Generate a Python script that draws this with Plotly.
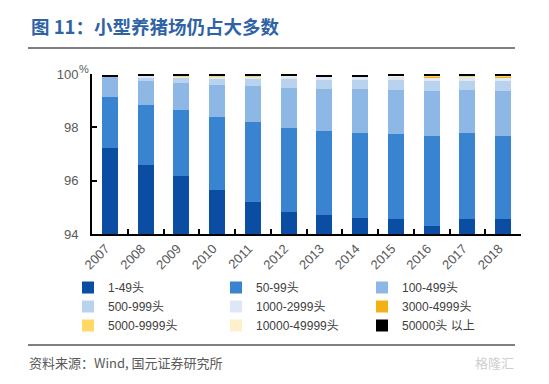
import plotly.graph_objects as go

years = ["2007", "2008", "2009", "2010", "2011", "2012", "2013", "2014", "2015", "2016", "2017", "2018"]

s_1_49 = [97.22, 96.59, 96.18, 95.65, 95.20, 94.83, 94.71, 94.60, 94.56, 94.30, 94.56, 94.56]
s_50_99 = [1.93, 2.25, 2.47, 2.74, 3.00, 3.15, 3.15, 3.19, 3.19, 3.38, 3.23, 3.12]
s_100_499 = [0.72, 0.91, 1.03, 1.20, 1.35, 1.50, 1.58, 1.65, 1.65, 1.68, 1.61, 1.68]
s_500_999 = [0.00, 0.13, 0.17, 0.24, 0.27, 0.32, 0.35, 0.35, 0.38, 0.36, 0.35, 0.36]
s_1000_2999 = [0.00, 0.05, 0.06, 0.08, 0.09, 0.10, 0.10, 0.10, 0.11, 0.16, 0.14, 0.16]
s_3000_4999 = [0.00, 0.01, 0.01, 0.01, 0.01, 0.01, 0.01, 0.01, 0.02, 0.03, 0.03, 0.03]
s_5000_9999 = [0.00, 0.01, 0.01, 0.01, 0.01, 0.01, 0.01, 0.01, 0.01, 0.03, 0.02, 0.03]
s_10000_49999 = [0.00, 0.01, 0.01, 0.01, 0.01, 0.01, 0.01, 0.01, 0.01, 0.01, 0.01, 0.01]
s_50000 = [0.10, 0.05, 0.05, 0.05, 0.05, 0.05, 0.05, 0.05, 0.05, 0.05, 0.05, 0.05]

series_names = ["1-49头", "50-99头", "100-499头", "500-999头", "1000-2999头",
                "3000-4999头", "5000-9999头", "10000-49999头", "50000头 以上"]
series_values = [s_1_49, s_50_99, s_100_499, s_500_999, s_1000_2999,
                 s_3000_4999, s_5000_9999, s_10000_49999, s_50000]
colors = ["#0B4DA2", "#3984D0", "#8DB8E6", "#B9D3EF", "#DCE8F6",
          "#F2B215", "#FFD866", "#FFF0CC", "#000000"]
legend_ids = ["legend", "legend2", "legend3"]

FONT = "Liberation Sans, Arial, Noto Sans CJK SC, sans-serif"
CJK = "Noto Sans CJK SC, sans-serif"

OFF = 8  # page body margin
W, H = 549 - 2 * OFF, 384 - 2 * OFF
L, T = 92 - OFF, 74 - OFF
PR, PB = 521 - OFF, 234 - OFF
R, B = W - PR, H - PB
PW, PH = PR - L, PB - T


def px_x(x):
    return (x - OFF - L) / PW


def px_y(y):
    return 1 - (y - OFF - T) / PH


fig = go.Figure()
for i, (name, vals, col) in enumerate(zip(series_names, series_values, colors)):
    fig.add_trace(go.Bar(x=years, y=vals, name=name, legend=legend_ids[i % 3],
                         marker=dict(color=col, line=dict(width=0))))


def legend_cfg(xpix):
    return dict(
        orientation="v",
        xref="container", yref="container",
        x=(xpix - OFF) / W, y=1 - (273 - OFF) / H, xanchor="left", yanchor="top",
        itemwidth=30,
        traceorder="normal",
        font=dict(family=FONT, size=12, color="#404040"),
        bgcolor="rgba(0,0,0,0)",
        tracegroupgap=0,
    )


fig.update_layout(
    barmode="stack",
    bargap=0.55,
    width=W, height=H,
    margin=dict(l=L, r=R, t=T, b=B, autoexpand=False),
    plot_bgcolor="white", paper_bgcolor="white",
    font=dict(family=FONT, size=13, color="#595959"),
    showlegend=True,
    legend=legend_cfg(68),
    legend2=legend_cfg(216),
    legend3=legend_cfg(362),
    xaxis=dict(
        type="category",
        showline=True, linecolor="black", linewidth=2,
        ticks="inside", tickson="boundaries", ticklen=5, tickwidth=2, tickcolor="black",
        tickangle=-45,
        ticklabelshift=-4,
        tickfont=dict(size=13, color="#595959"),
        showgrid=False, zeroline=False,
    ),
    yaxis=dict(
        range=[94, 100],
        tickvals=[94, 96, 98, 100],
        showline=True, linecolor="black", linewidth=2,
        ticks="inside", ticklen=5, tickwidth=2, tickcolor="black",
        tickfont=dict(size=13, color="#595959"),
        ticklabelstandoff=9,
        showgrid=False, zeroline=False,
    ),
    annotations=[
        dict(xref="paper", yref="paper", x=px_x(91), y=px_y(69),
             xanchor="right", yanchor="middle", text="%", showarrow=False,
             font=dict(size=11, color="#595959", family=FONT)),
        dict(xref="paper", yref="paper", x=px_x(29), y=px_y(26),
             xanchor="left", yanchor="middle",
             text="<b>图 11：小型养猪场仍占大多数</b>", showarrow=False,
             font=dict(size=18.5, color="#2F63A6", family=CJK)),
        dict(xref="paper", yref="paper", x=px_x(27), y=px_y(362),
             xanchor="left", yanchor="middle",
             text="资料来源：Wind, 国元证券研究所", showarrow=False,
             font=dict(size=13, color="#595959", family=CJK)),
        dict(xref="paper", yref="paper", x=px_x(516), y=px_y(362),
             xanchor="right", yanchor="middle",
             text="格隆汇", showarrow=False,
             font=dict(size=13, color="#CFCFCF", family=CJK)),
    ],
    shapes=[
        dict(type="line", xref="paper", yref="paper",
             x0=px_x(28), x1=px_x(515), y0=px_y(48), y1=px_y(48),
             line=dict(color="black", width=1)),
        dict(type="line", xref="paper", yref="paper",
             x0=px_x(28), x1=px_x(515), y0=px_y(345), y1=px_y(345),
             line=dict(color="black", width=1)),
    ],
)

fig.write_html("out.html")
